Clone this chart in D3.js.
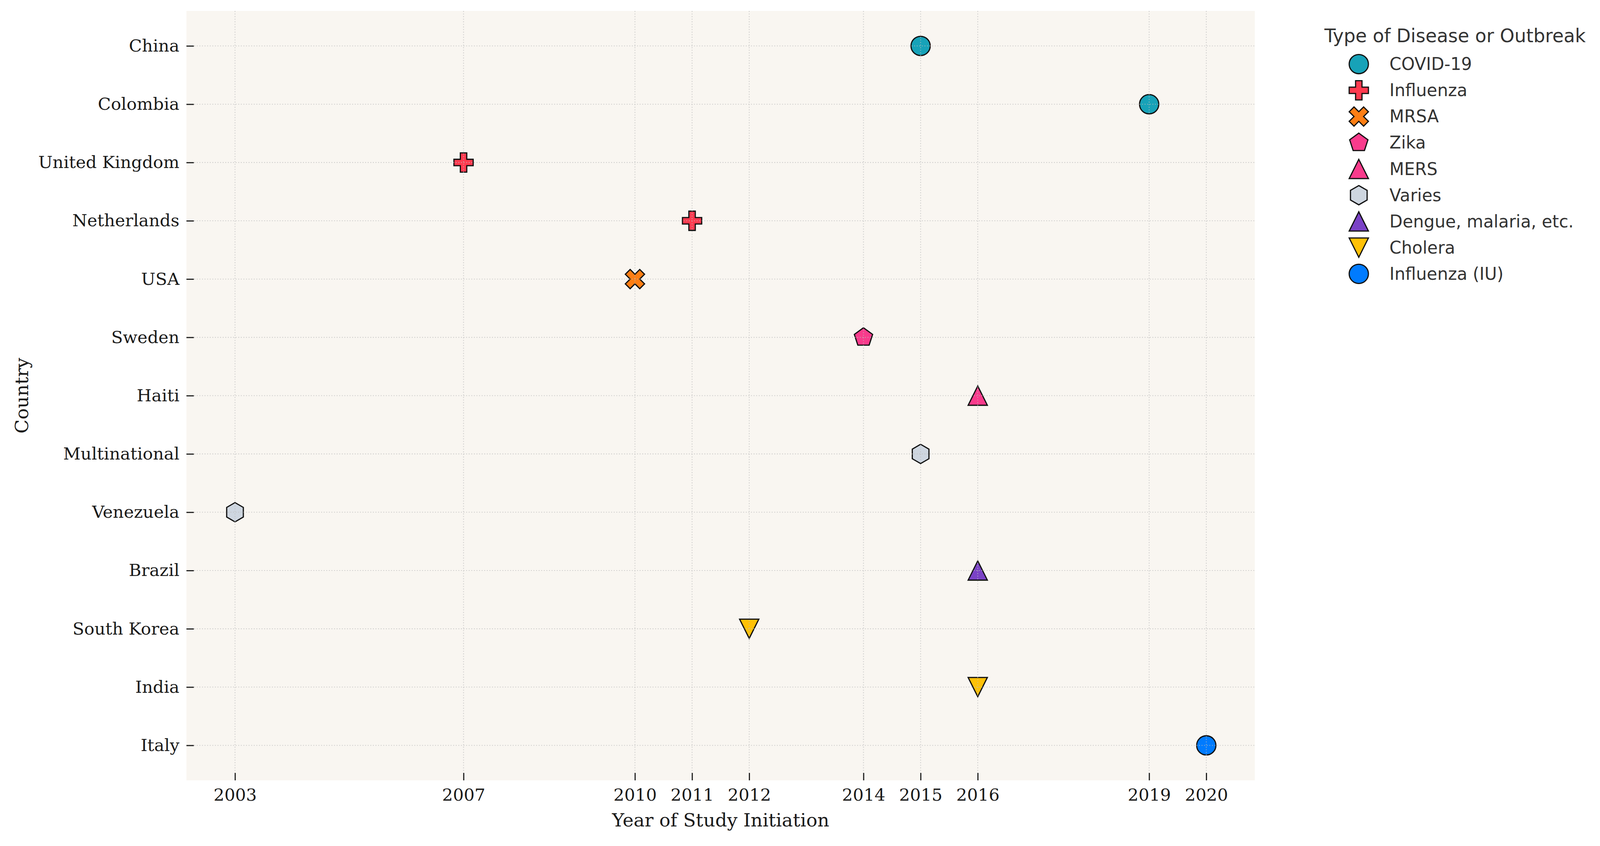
<!DOCTYPE html>
<html>
<head>
<meta charset="utf-8">
<script src="https://cdn.jsdelivr.net/npm/d3@7"></script>
<style>
  html, body { margin: 0; padding: 0; background: #ffffff; overflow: hidden; }
  svg { display: block; width: 100vw; height: 100vh; }
</style>
</head>
<body>
<script>
// study timeline scatter
var countries = ["China", "Colombia", "United Kingdom", "Netherlands", "USA", "Sweden", "Haiti",
                 "Multinational", "Venezuela", "Brazil", "South Korea", "India", "Italy"];
var years = [2015, 2019, 2007, 2011, 2010, 2014, 2016, 2015, 2003, 2016, 2012, 2016, 2020];
var diseases = ["COVID-19", "COVID-19", "Influenza", "Influenza", "MRSA", "Zika", "MERS",
                "Varies", "Varies", "Dengue, malaria, etc.", "Cholera", "Cholera", "Influenza (IU)"];

var diseaseTypes = ["COVID-19", "Influenza", "MRSA", "Zika", "MERS", "Varies",
                    "Dengue, malaria, etc.", "Cholera", "Influenza (IU)"];
var diseaseColors = ["#17a2b8", "#ff3a4f", "#fd7e14", "#f93b8c", "#f93b8c", "#ced6e0",
                     "#7a42c6", "#ffc107", "#007bff"];
var diseaseShapes = ["circle", "plus", "x", "pentagon", "triangleUp", "hexagon",
                     "triangleUp", "triangleDown", "circle"];

var xTickYears = [2003, 2007, 2010, 2011, 2012, 2014, 2015, 2016, 2019, 2020];

// layout is in 4325 px wide units; vertical positions follow the real window shape
var W = 4325;
var H = Math.round(W * window.innerHeight / window.innerWidth) || 2165;
var ky = H / 2165;
var plotL = 504, plotR = 3392, plotT = 28 * ky, plotB = 1997 * ky;
var markerSize = 52;

var svg = d3.select("body").append("svg")
  .attr("viewBox", "0 0 " + W + " " + H)
  .attr("preserveAspectRatio", "xMidYMid meet");

// 5% margins like the original
var yr = d3.extent(years);
var pad = (yr[1] - yr[0]) * 0.05;
var x = d3.scaleLinear().domain([yr[0] - pad, yr[1] + pad]).range([plotL, plotR]);
var y = d3.scalePoint().domain(countries).range([plotT, plotB]).padding(0.6);

// marker outlines, normalised like matplotlib markers (span = size)
function polyPath(pts) {
  return "M" + pts.map(function(p) { return p[0].toFixed(2) + "," + p[1].toFixed(2); }).join("L") + "Z";
}
function regular(n, r) {
  var pts = [];
  for (var k = 0; k < n; k++) {
    var a = -Math.PI / 2 + k * 2 * Math.PI / n;
    pts.push([r * Math.cos(a), r * Math.sin(a)]);
  }
  return pts;
}
function markerPath(shape, s) {
  var h = s / 2;
  if (shape == "circle") return d3.symbol(d3.symbolCircle, Math.PI * h * h)();
  if (shape == "plus") {
    var v = [[-1,-3],[1,-3],[1,-1],[3,-1],[3,1],[1,1],[1,3],[-1,3],[-1,1],[-3,1],[-3,-1],[-1,-1]];
    return polyPath(v.map(function(p) { return [p[0] * s / 6, p[1] * s / 6]; }));
  }
  if (shape == "x") {
    var v2 = [[-1,-2],[0,-1],[1,-2],[2,-1],[1,0],[2,1],[1,2],[0,1],[-1,2],[-2,1],[-1,0],[-2,-1]];
    return polyPath(v2.map(function(p) { return [p[0] * s / 4, p[1] * s / 4]; }));
  }
  if (shape == "pentagon") return polyPath(regular(5, h));
  if (shape == "hexagon") return polyPath(regular(6, h));
  if (shape == "triangleUp") return polyPath([[0, -h], [-h, h], [h, h]]);
  if (shape == "triangleDown") return polyPath([[0, h], [-h, -h], [h, -h]]);
}

// plot background
svg.append("rect")
  .attr("x", plotL).attr("y", plotT)
  .attr("width", plotR - plotL).attr("height", plotB - plotT)
  .attr("fill", "#f9f6f1");

// points
var data = countries.map(function(c, i) {
  var k = diseaseTypes.indexOf(diseases[i]);
  return {country: c, year: years[i], color: diseaseColors[k], shape: diseaseShapes[k]};
});

svg.selectAll("path.pt")
  .data(data)
  .enter()
  .append("path")
  .attr("class", "pt")
  .attr("d", function(d) { return markerPath(d.shape, markerSize); })
  .attr("transform", function(d) { return "translate(" + x(d.year) + "," + y(d.country) + ")"; })
  .attr("fill", function(d) { return d.color; })
  .attr("stroke", "#111")
  .attr("stroke-width", 3.2)
  .attr("stroke-linejoin", "miter");

// grid (drawn on top of markers, faint)
var grid = svg.append("g").attr("stroke", "#bdbdbd").attr("stroke-width", 2.2)
  .attr("stroke-dasharray", "2.5,4.5").attr("opacity", 0.75);
grid.selectAll("line.gx")
  .data(xTickYears)
  .enter().append("line")
  .attr("x1", function(d) { return x(d); }).attr("x2", function(d) { return x(d); })
  .attr("y1", plotT).attr("y2", plotB);
grid.selectAll("line.gy")
  .data(countries)
  .enter().append("line")
  .attr("y1", function(d) { return y(d); }).attr("y2", function(d) { return y(d); })
  .attr("x1", plotL).attr("x2", plotR);

// axes with inward ticks
var xAxis = d3.axisBottom(x).tickValues(xTickYears).tickFormat(d3.format("d"))
  .tickSizeInner(-20).tickSizeOuter(0).tickPadding(22);
var gx = svg.append("g").attr("transform", "translate(0," + plotB + ")").call(xAxis);
gx.select(".domain").remove();
gx.selectAll(".tick line").attr("stroke", "#1a1a1a").attr("stroke-width", 3);
gx.selectAll(".tick text")
  .attr("font-family", "DejaVu Serif")
  .attr("font-size", 46)
  .attr("fill", "#1a1a1a");

var yAxis = d3.axisLeft(y).tickSizeInner(-20).tickSizeOuter(0).tickPadding(19);
var gy = svg.append("g").attr("transform", "translate(" + plotL + ",0)").call(yAxis);
gy.select(".domain").remove();
gy.selectAll(".tick line").attr("stroke", "#1a1a1a").attr("stroke-width", 3);
gy.selectAll(".tick text")
  .attr("font-family", "DejaVu Serif")
  .attr("font-size", 46)
  .attr("fill", "#1a1a1a");

// axis titles
svg.append("text")
  .text("Year of Study Initiation")
  .attr("x", (plotL + plotR) / 2)
  .attr("y", plotB + 125)
  .attr("text-anchor", "middle")
  .attr("font-family", "DejaVu Serif")
  .attr("font-size", 50)
  .attr("fill", "#1a1a1a");

svg.append("text")
  .text("Country")
  .attr("transform", "translate(76," + (plotT + plotB) / 2 + ") rotate(-90)")
  .attr("text-anchor", "middle")
  .attr("font-family", "DejaVu Serif")
  .attr("font-size", 50)
  .attr("fill", "#1a1a1a");

// legend
var legend = svg.append("g");
legend.append("text")
  .text("Type of Disease or Outbreak")
  .attr("x", 3580)
  .attr("y", 91 * ky + 18)
  .attr("font-family", "DejaVu Sans")
  .attr("font-size", 50)
  .attr("fill", "#333333");

var items = legend.selectAll("g.item")
  .data(diseaseTypes)
  .enter()
  .append("g")
  .attr("class", "item")
  .attr("transform", function(d, i) { return "translate(3673," + (164 + i * 67.1) * ky + ")"; });

items.append("path")
  .attr("d", function(d, i) { return markerPath(diseaseShapes[i], markerSize); })
  .attr("fill", function(d, i) { return diseaseColors[i]; })
  .attr("stroke", "#111")
  .attr("stroke-width", 3.2);

items.append("text")
  .text(function(d) { return d; })
  .attr("x", 83)
  .attr("y", 16)
  .attr("font-family", "DejaVu Sans")
  .attr("font-size", 46)
  .attr("fill", "#333333");
</script>
</body>
</html>
